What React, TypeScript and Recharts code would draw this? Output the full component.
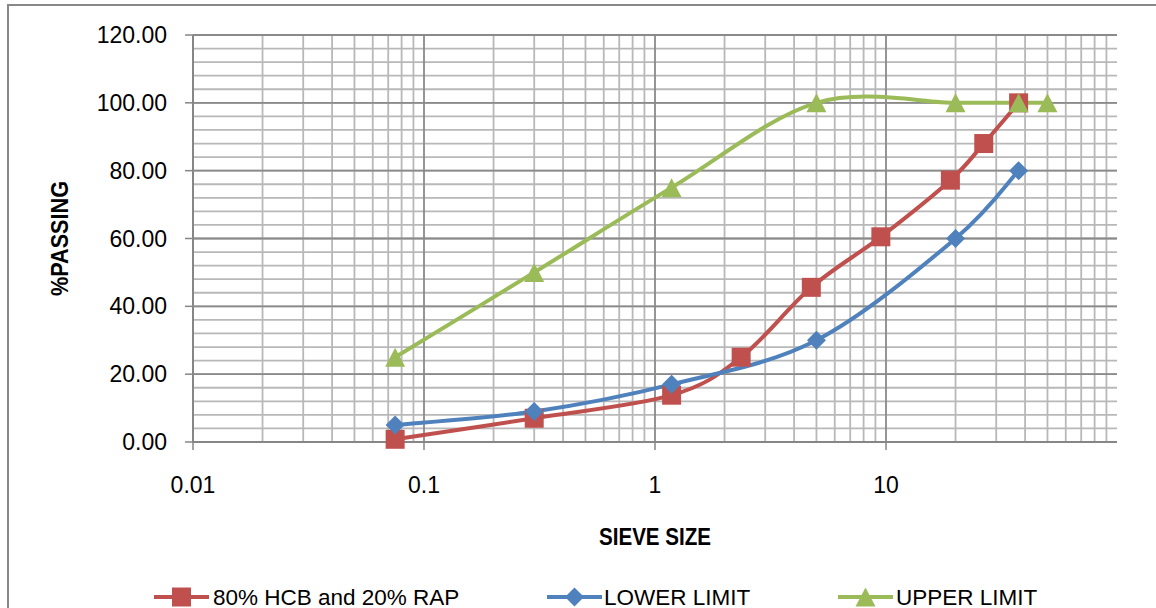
import React from 'react';
import { LineChart, Line, XAxis, YAxis, CartesianGrid, Legend } from 'recharts';

// Gradation data: sieve size (mm) and percent passing
const blendSieve = [0.075, 0.3, 1.18, 2.36, 4.75, 9.5, 19, 26.5, 37.5];
const blendPassing = [0.8, 7.0, 13.8, 25.0, 45.6, 60.5, 77.2, 88.0, 100.0];
const lowerSieve = [0.075, 0.3, 1.18, 5, 20, 37.5];
const lowerPassing = [5, 9, 17, 30, 60, 80];
const upperSieve = [0.075, 0.3, 1.18, 5, 20, 37.5, 50];
const upperPassing = [25, 50, 75, 100, 100, 100, 100];

const seriesNames = ['80% HCB and 20% RAP', 'LOWER LIMIT', 'UPPER LIMIT'];

const xTicks = [0.01, 0.1, 1, 10];
const yTicks = [0, 20, 40, 60, 80, 100, 120];

const RED = '#C0504D';
const BLUE = '#4F81BD';
const GREEN = '#9BBB59';
const AXIS = '#868686';
const MINOR = '#b8b8b8';
const MAJOR = '#8a8a8a';
const FONT = '"Liberation Sans", Arial, sans-serif';

const toRows = (xs: number[], ys: number[]) => xs.map((x, i) => ({ size: x, passing: ys[i] }));
const blendData = toRows(blendSieve, blendPassing);
const lowerData = toRows(lowerSieve, lowerPassing);
const upperData = toRows(upperSieve, upperPassing);

// Log-scale grid: minor lines at 2..9 of each decade, horizontal lines every 4 %
const decades = [0.01, 0.1, 1, 10];
const minorX: number[] = [];
decades.forEach((d) => {
  for (let m = 2; m <= 9; m++) minorX.push(Number((d * m).toPrecision(3)));
});
const majorX = [0.1, 1, 10];
const minorY: number[] = [];
for (let v = 4; v <= 120; v += 4) minorY.push(v);
const majorY = [20, 40, 60, 80, 100, 120];

// Smoothed line (cubic Bezier through points, Catmull-Rom style control points)
function smoothCurve(context: any) {
  let xs: number[] = [];
  let ys: number[] = [];
  return {
    areaStart() {},
    areaEnd() {},
    lineStart() {
      xs = [];
      ys = [];
    },
    point(x: number, y: number) {
      xs.push(+x);
      ys.push(+y);
    },
    lineEnd() {
      const n = xs.length;
      if (!n) return;
      context.moveTo(xs[0], ys[0]);
      for (let i = 0; i < n - 1; i++) {
        const i0 = Math.max(i - 1, 0);
        const i3 = Math.min(i + 2, n - 1);
        const c1x = xs[i] + (xs[i + 1] - xs[i0]) / 6;
        const c1y = ys[i] + (ys[i + 1] - ys[i0]) / 6;
        const c2x = xs[i + 1] - (xs[i3] - xs[i]) / 6;
        const c2y = ys[i + 1] - (ys[i3] - ys[i]) / 6;
        context.bezierCurveTo(c1x, c1y, c2x, c2y, xs[i + 1], ys[i + 1]);
      }
    },
  };
}

type Shape = 'square' | 'diamond' | 'triangle';

const markerPath = (shape: Shape, cx: number, cy: number) => {
  if (shape === 'square') {
    const h = 9.5;
    return `M${cx - h},${cy - h}H${cx + h}V${cy + h}H${cx - h}Z`;
  }
  if (shape === 'diamond') {
    const h = 9.5;
    return `M${cx},${cy - h}L${cx + h},${cy}L${cx},${cy + h}L${cx - h},${cy}Z`;
  }
  const w = 10;
  const t = 9.5;
  return `M${cx},${cy - t}L${cx + w},${cy + t}L${cx - w},${cy + t}Z`;
};

const makeDot = (shape: Shape, color: string) => (props: any) => {
  const { cx, cy, index } = props;
  if (cx == null || cy == null) return <g key={`d-${index}`} />;
  return <path key={`d-${shape}-${index}`} d={markerPath(shape, cx, cy)} fill={color} stroke="none" />;
};

const legendLayout = [
  { shape: 'square' as Shape, color: RED, iconX: 154, textX: 213 },
  { shape: 'diamond' as Shape, color: BLUE, iconX: 547, textX: 604 },
  { shape: 'triangle' as Shape, color: GREEN, iconX: 838, textX: 896 },
];

const renderLegend = () => (
  <svg width={1156} height={34} style={{ display: 'block' }}>
    {legendLayout.map((item, i) => (
      <g key={seriesNames[i]}>
        <line x1={item.iconX} x2={item.iconX + 55} y1={17} y2={17} stroke={item.color} strokeWidth={4} />
        <path d={markerPath(item.shape, item.iconX + 27.5, 17)} fill={item.color} />
        <text x={item.textX} y={24.5} fontFamily={FONT} fontSize={22.5} fill="#000">
          {seriesNames[i]}
        </text>
      </g>
    ))}
  </svg>
);

const yTitle = (props: any) => {
  const vb = props.viewBox || { x: 93, y: 35, width: 100, height: 407 };
  const cx = vb.x - 33;
  const cy = vb.y + vb.height / 2;
  return (
    <text
      x={cx}
      y={cy}
      transform={`rotate(-90 ${cx} ${cy})`}
      textAnchor="middle"
      dominantBaseline="central"
      fontFamily={FONT}
      fontWeight="bold"
      fontSize={23}
      textLength={115}
      lengthAdjust="spacingAndGlyphs"
      fill="#000"
    >
      %PASSING
    </text>
  );
};

const xTitle = (props: any) => {
  const vb = props.viewBox || { x: 193, y: 442, width: 924, height: 60 };
  return (
    <text
      x={vb.x + vb.width / 2}
      y={vb.y + 103}
      textAnchor="middle"
      fontFamily={FONT}
      fontWeight="bold"
      fontSize={23}
      textLength={112}
      lengthAdjust="spacingAndGlyphs"
      fill="#000"
    >
      SIEVE SIZE
    </text>
  );
};

export default function App() {
  return (
    <div
      style={{
        position: 'absolute',
        left: 0,
        top: 0,
        width: 1156,
        height: 608,
        overflow: 'hidden',
        background: '#fff',
      }}
    >
      <div
        style={{
          position: 'absolute',
          left: 7,
          top: 4,
          width: 1200,
          height: 700,
          border: '2px solid #888888',
          boxSizing: 'border-box',
        }}
      />
      <div style={{ position: 'absolute', left: 0, top: 0 }}>
        <LineChart width={1156} height={608} margin={{ top: 35, right: 39, bottom: 106, left: 93 }}>
          <CartesianGrid
            horizontalValues={minorY}
            verticalValues={minorX}
            syncWithTicks
            stroke={MINOR}
            strokeWidth={1.8}
          />
          <CartesianGrid
            horizontalValues={majorY}
            verticalValues={majorX}
            syncWithTicks
            stroke={MAJOR}
            strokeWidth={1.8}
          />
          <XAxis
            dataKey="size"
            type="number"
            scale="log"
            domain={[0.01, 100]}
            allowDataOverflow
            ticks={xTicks}
            tickFormatter={(v: number) => String(v)}
            interval={0}
            height={60}
            tickSize={8}
            tickMargin={27}
            axisLine={{ stroke: AXIS, strokeWidth: 2 }}
            tickLine={{ stroke: AXIS, strokeWidth: 1.5 }}
            tick={{ fill: '#000', fontSize: 23, fontFamily: FONT }}
            label={{ content: xTitle }}
          />
          <YAxis
            dataKey="passing"
            type="number"
            domain={[0, 120]}
            ticks={yTicks}
            interval={0}
            tickFormatter={(v: number) => v.toFixed(2)}
            width={100}
            tickSize={8}
            tickMargin={18}
            axisLine={{ stroke: AXIS, strokeWidth: 2 }}
            tickLine={{ stroke: AXIS, strokeWidth: 1.5 }}
            tick={{ fill: '#000', fontSize: 23, fontFamily: FONT }}
            label={{ content: yTitle }}
          />
          <Legend
            layout="horizontal"
            verticalAlign="middle"
            align="center"
            content={renderLegend}
            wrapperStyle={{ left: 0, top: 580, width: 1156, height: 34 }}
          />
          <Line
            name={seriesNames[0]}
            data={blendData}
            dataKey="passing"
            type={smoothCurve as any}
            stroke={RED}
            strokeWidth={4}
            dot={makeDot('square', RED)}
            activeDot={false}
            isAnimationActive={false}
          />
          <Line
            name={seriesNames[1]}
            data={lowerData}
            dataKey="passing"
            type={smoothCurve as any}
            stroke={BLUE}
            strokeWidth={4}
            dot={makeDot('diamond', BLUE)}
            activeDot={false}
            isAnimationActive={false}
          />
          <Line
            name={seriesNames[2]}
            data={upperData}
            dataKey="passing"
            type={smoothCurve as any}
            stroke={GREEN}
            strokeWidth={4}
            dot={makeDot('triangle', GREEN)}
            activeDot={false}
            isAnimationActive={false}
          />
        </LineChart>
      </div>
    </div>
  );
}
